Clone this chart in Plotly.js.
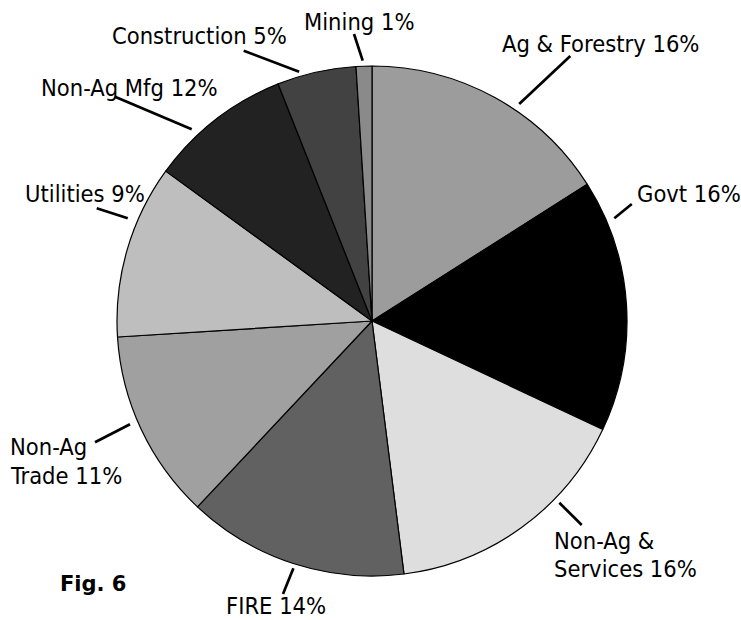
<!DOCTYPE html>
<html>
<head>
<meta charset="utf-8">
<script src="https://cdn.plot.ly/plotly-3.0.1.min.js"></script>
<style>
  html, body { margin: 0; padding: 0; background: #ffffff; }
  #chart { width: 741px; height: 620px; }
</style>
</head>
<body>
<div id="chart"></div>
<script>
// ---- data ----
var categories = ['Ag & Forestry', 'Govt', 'Non-Ag & Services', 'FIRE', 'Non-Ag Trade',
                  'Utilities', 'Non-Ag Mfg', 'Construction', 'Mining'];
var shares = [16, 16, 16, 14, 12, 11, 9, 5, 1];
var labelText = [
  ['Ag & Forestry 16%'],
  ['Govt 16%'],
  ['Non-Ag &', 'Services 16%'],
  ['FIRE 14%'],
  ['Non-Ag', 'Trade 11%'],
  ['Utilities 9%'],
  ['Non-Ag Mfg 12%'],
  ['Construction 5%'],
  ['Mining 1%']
];
var figureLabel = 'Fig. 6';

// ---- styles / layout ----
var sliceColors = ['#9c9c9c', '#000000', '#dedede', '#616161', '#a0a0a0',
                   '#bebebe', '#222222', '#424242', '#8a8a8a'];
var W = 741, H = 620;
var pieCenter = [372, 321], pieR = 255;

// label placement (pixels): anchor x, cap-centre y of each line, leader line ends
var labelPlace = [
  {x: 600,   anchor: 'center', ys: [42.2],        lead: [519.2, 104, 570.3, 56]},
  {x: 689.2, anchor: 'center', ys: [192.7],       lead: [614.3, 218.3, 631.8, 204]},
  {x: 553.3, anchor: 'left',   ys: [539, 567],    lead: [559.3, 502.7, 581.7, 525]},
  {x: 275.9, anchor: 'center', ys: [604.5],       lead: [293.4, 568.3, 283, 594]},
  {x: 9,     anchor: 'left',   ys: [445.5, 474],  lead: [130, 424.3, 95, 442.3]},
  {x: 84.7,  anchor: 'center', ys: [192.3],       lead: [127.7, 218.3, 96.7, 208.3]},
  {x: 129.7, anchor: 'center', ys: [86.7],        lead: [191.7, 129.3, 115, 96.7]},
  {x: 199.3, anchor: 'center', ys: [34.7],        lead: [299.1, 71.7, 243.7, 50.7]},
  {x: 358.9, anchor: 'center', ys: [20.5],        lead: [362.7, 60.7, 354, 34]}
];
var labelFont = {family: '"DejaVu Sans Condensed", "DejaVu Sans", sans-serif', size: 23.5, color: '#000'};
var capShift = 1.5; // box centre vs cap centre correction (px)

function px(x) { return x / W; }
function py(y) { return 1 - y / H; }

var annotations = [];
var shapes = [];
labelPlace.forEach(function (p, i) {
  labelText[i].forEach(function (t, k) {
    annotations.push({
      xref: 'paper', yref: 'paper', x: px(p.x), y: py(p.ys[k] + capShift),
      xanchor: p.anchor, yanchor: 'middle', text: t, showarrow: false,
      font: labelFont, align: 'left', borderpad: 0
    });
  });
  shapes.push({
    type: 'line', xref: 'paper', yref: 'paper',
    x0: px(p.lead[0]), y0: py(p.lead[1]), x1: px(p.lead[2]), y1: py(p.lead[3]),
    line: {color: '#000', width: 2.7}
  });
});
annotations.push({
  xref: 'paper', yref: 'paper', x: px(59.2), y: py(582.5 + capShift),
  xanchor: 'left', yanchor: 'middle', text: '<b>' + figureLabel + '</b>', showarrow: false,
  font: {family: '"DejaVu Sans", sans-serif', size: 21, color: '#000'}, borderpad: 0
});

var trace = {
  type: 'pie',
  labels: categories,
  values: shares,
  sort: false,
  direction: 'clockwise',
  rotation: 0,
  textinfo: 'none',
  hoverinfo: 'label+percent',
  showlegend: false,
  marker: {colors: sliceColors, line: {color: '#000', width: 1.2}},
  domain: {
    x: [px(pieCenter[0] - pieR), px(pieCenter[0] + pieR)],
    y: [py(pieCenter[1] + pieR), py(pieCenter[1] - pieR)]
  }
};

var layout = {
  width: W, height: H,
  margin: {l: 0, r: 0, t: 0, b: 0},
  paper_bgcolor: '#ffffff',
  plot_bgcolor: '#ffffff',
  showlegend: false,
  annotations: annotations,
  shapes: shapes
};

Plotly.newPlot('chart', [trace], layout, {displayModeBar: false, staticPlot: true});
</script>
</body>
</html>
